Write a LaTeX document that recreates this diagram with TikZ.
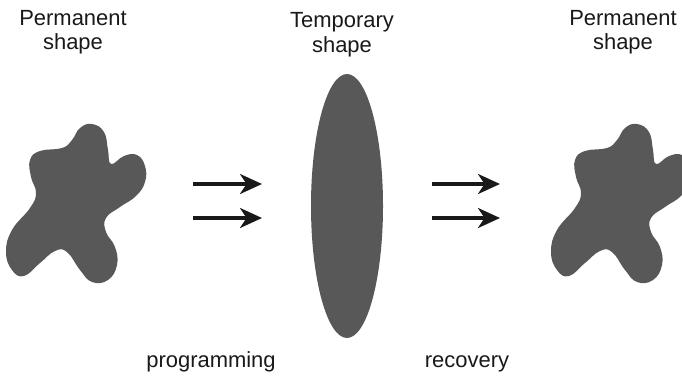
\documentclass[tikz,border=0pt]{standalone}
\usepackage{fontspec}
\setmainfont{Liberation Sans}
\usetikzlibrary{arrows.meta}
\definecolor{blobgray}{RGB}{88,88,88}
\definecolor{inkblack}{RGB}{25,25,25}
\newcommand{\blobpath}{plot[smooth cycle,tension=0.75] coordinates {
  (72,140) (80,128) (92,124) (104,132) (108,150) (111,164)
  (124,156) (137,155) (145,166) (145,182) (136,196) (120,207) (106,218)
  (106,232) (115,247) (117,265) (108,280) (92,282) (80,270) (67,252)
  (55,251) (40,263) (24,276) (12,270) (6,252) (12,230) (30,208) (36,193)
  (31,177) (30,160) (40,151) (62,148)}}
\begin{document}
\begin{tikzpicture}[x=0.02cm,y=-0.02cm,>={Stealth[length=0.44cm,width=0.4cm,inset=0.13cm]},
  lbl/.style={align=center,inner sep=0pt,text=inkblack,font=\fontsize{12.5}{13.7}\selectfont},
  flow/.style={->,line width=1.8pt,draw=inkblack}]
		\useasboundingbox (0,0) rectangle (682,375);
		\clip (0,0) rectangle (682,375);
		% shapes
		\fill[blobgray] \blobpath;
		\fill[blobgray,shift={(545,0)}] \blobpath;
		\fill[blobgray] (347,206) ellipse [x radius=36,y radius=132];
		% labels (base = last line)
		\node[lbl,anchor=base] (permleft) at (73,50) {Permanent\\shape};
		\node[lbl,anchor=base] (temp) at (342,52) {Temporary\\shape};
		\node[lbl,anchor=base] (permright) at (623,50) {Permanent\\shape};
		\node[lbl,anchor=base] (prog) at (211,367) {programming};
		\node[lbl,anchor=base] (recov) at (467,367) {recovery};
		% arrows
		\coordinate (progtopa) at (193,184);
		\coordinate (progtopb) at (262,184);
		\coordinate (progbota) at (193,218);
		\coordinate (progbotb) at (262,218);
		\coordinate (recovtopa) at (432,184);
		\coordinate (recovtopb) at (500,184);
		\coordinate (recovbota) at (432,218);
		\coordinate (recovbotb) at (500,218);
		\draw[flow] (progtopa)--(progtopb);
		\draw[flow] (progbota)--(progbotb);
		\draw[flow] (recovtopa)--(recovtopb);
		\draw[flow] (recovbota)--(recovbotb);
		\end{tikzpicture}
\end{document}
